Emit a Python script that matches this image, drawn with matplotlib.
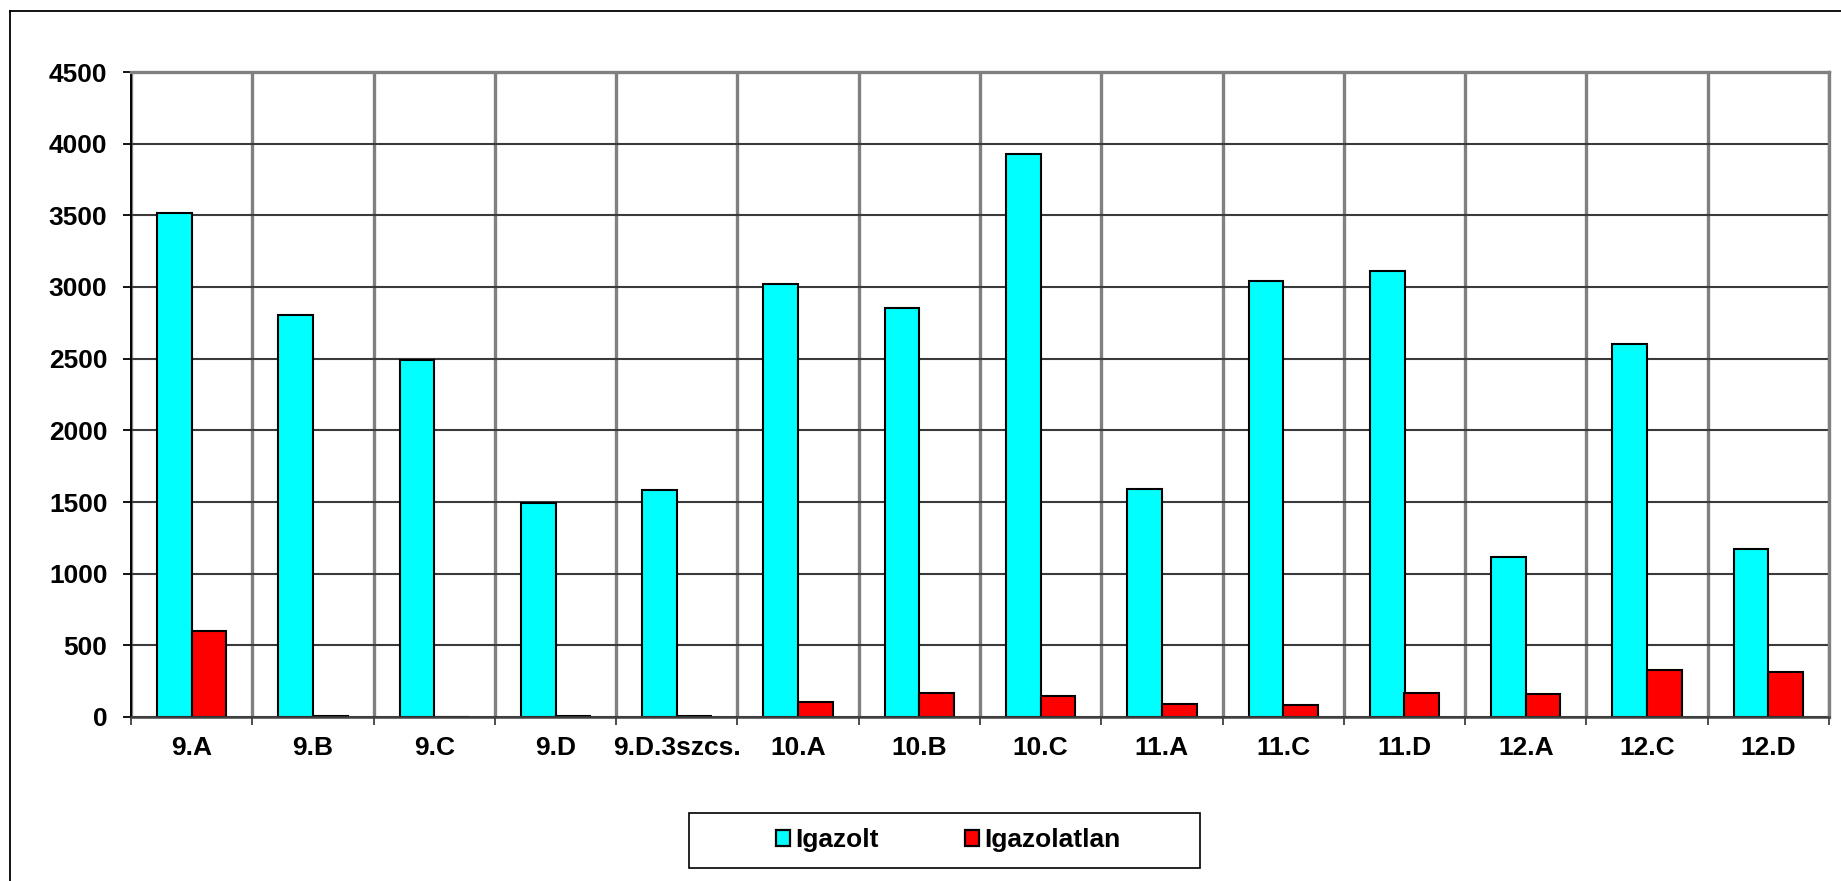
import numpy as np
import matplotlib
matplotlib.use("Agg")
import matplotlib.pyplot as plt
from matplotlib.patches import Rectangle, Patch
from matplotlib.lines import Line2D

classes = ["9.A", "9.B", "9.C", "9.D", "9.D.3szcs.", "10.A", "10.B",
           "10.C", "11.A", "11.C", "11.D", "12.A", "12.C", "12.D"]
igazolt = [3517, 2805, 2493, 1493, 1581, 3019, 2856,
           3931, 1588, 3042, 3110, 1116, 2605, 1172]
igazolatlan = [602, 6, 0, 5, 5, 104, 170,
               146, 88, 81, 170, 160, 330, 311]
y_ticks = [0, 500, 1000, 1500, 2000, 2500, 3000, 3500, 4000, 4500]
series_names = ["Igazolt", "Igazolatlan"]

plt.rcParams["font.family"] = ["Liberation Sans", "DejaVu Sans"]
plt.rcParams["font.weight"] = "bold"
FS = 19

W, H = 1841, 881
fig = plt.figure(figsize=(W / 100, H / 100), dpi=100)
fig.patch.set_facecolor("white")

# plot area in pixel coords
left, right, top, bottom = 131, 1829, 72, 717
ax = fig.add_axes([left / W, 1 - bottom / H, (right - left) / W, (bottom - top) / H])

x = np.arange(len(classes))
bw = 1 / 3.5
ax.bar(x - bw / 2, igazolt, bw, color="#00FFFF", edgecolor="black", linewidth=1.5, zorder=3)
ax.bar(x + bw / 2, igazolatlan, bw, color="#FF0000", edgecolor="black", linewidth=1.5, zorder=3)

ax.set_xlim(-0.5, len(classes) - 0.5)
ax.set_ylim(0, 4500)
ax.set_yticks(y_ticks)
ax.set_yticklabels([str(v) for v in y_ticks], fontsize=FS, fontweight="bold")
ax.set_xticks(x)
ax.set_xticklabels(classes, fontsize=FS, fontweight="bold")
ax.set_xticks(np.arange(-0.5, len(classes), 1.0), minor=True)

ax.tick_params(axis="y", direction="out", length=6, width=1.3, color="black", pad=11)
ax.tick_params(axis="x", which="major", length=0, pad=14)
ax.tick_params(axis="x", which="minor", direction="out", length=6, width=1.3, color="#404040")

ax.set_axisbelow(True)
ax.grid(axis="y", which="major", color="#3a3a3a", linewidth=1.5, zorder=0)
ax.grid(axis="x", which="minor", color="#808080", linewidth=2.4, zorder=0)
ax.grid(axis="x", which="major", visible=False)

ax.spines["left"].set_color("black")
ax.spines["left"].set_linewidth(1.4)
ax.spines["bottom"].set_color("#404040")
ax.spines["bottom"].set_linewidth(1.8)
ax.spines["bottom"].set_zorder(4)
for s in ("top", "right"):
    ax.spines[s].set_color("#808080")
    ax.spines[s].set_linewidth(2.4)

# outer chart frame (left and top edges visible)
fig.add_artist(Line2D([10 / W, 10 / W], [0, 1 - 10.7 / H], transform=fig.transFigure,
                      color="black", linewidth=1.3))
fig.add_artist(Line2D([10 / W, 1], [1 - 10.7 / H, 1 - 10.7 / H], transform=fig.transFigure,
                      color="black", linewidth=1.3))

# legend box
lx0, lx1, ly0, ly1 = 689, 1200, 813, 868
fig.add_artist(Rectangle((lx0 / W, 1 - ly1 / H), (lx1 - lx0) / W, (ly1 - ly0) / H,
                         transform=fig.transFigure, fill=False, edgecolor="black", linewidth=1.2))
handles = [Patch(facecolor="#00FFFF", edgecolor="black", linewidth=1.6),
           Patch(facecolor="#FF0000", edgecolor="black", linewidth=1.6)]
fig.legend(handles, series_names, loc="center", bbox_to_anchor=(948 / W, 1 - 840 / H),
           ncol=2, frameon=False, prop={"size": FS, "weight": "bold"},
           handlelength=0.54, handleheight=0.54, handletextpad=0.2, columnspacing=3.25)

fig.savefig("out.png", dpi=100)
